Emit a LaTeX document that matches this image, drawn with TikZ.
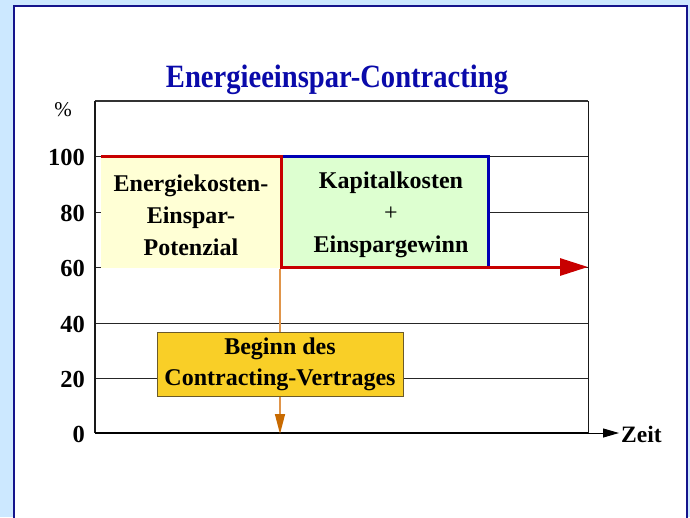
\documentclass[tikz,border=0pt]{standalone}
\usepackage{fontspec}
\setmainfont{Liberation Serif}
\newfontfamily\titlefont[FakeStretch=0.88]{Liberation Serif}
\newfontfamily\lblfont{Liberation Serif}
\usetikzlibrary{arrows.meta}
\definecolor{bgblue}{HTML}{CCE8FF}
\definecolor{panelblue}{HTML}{14148C}
\definecolor{titleblue}{HTML}{0A0AAA}
\definecolor{lightyellow}{HTML}{FFFFD5}
\definecolor{lightgreen}{HTML}{DDFFD0}
\definecolor{boxred}{HTML}{C80000}
\definecolor{boxblue}{HTML}{0000B4}
\definecolor{gold}{HTML}{F9CF27}
\definecolor{goldedge}{HTML}{6B5A2A}
\definecolor{orangeline}{HTML}{E0954A}
\definecolor{orangehead}{HTML}{C86A00}
\tikzset{
  ticklabel/.style={anchor=east, font=\lblfont\bfseries\fontsize{24.5}{24.5}\selectfont, inner sep=0pt},
  boxtext/.style={align=center, font=\lblfont\bfseries\fontsize{24}{32}\selectfont, inner sep=0pt},
  gridline/.style={black!85, line width=0.9pt},
}
\begin{document}
\begin{tikzpicture}[x=1pt,y=-1pt]
\useasboundingbox (0,0) rectangle (690,517);
\fill[bgblue] (0,0) rectangle (690,517);
\draw[panelblue, line width=2pt, fill=white] (13.5,5.5) rectangle (686.5,540);

% title
\node[text=titleblue, font=\titlefont\bfseries\fontsize{32.5}{32.5}\selectfont, inner sep=0pt] (title) at (337,80) {Energieeinspar-Contracting};

% coordinates
\coordinate (o) at (95,433);
\coordinate (tl) at (95,101);
\coordinate (tr) at (588,101);
\coordinate (br) at (588,433);

% grid lines
\foreach \yy in {156,212,267,323,378} {
  \draw[gridline] (95,\yy) -- (588,\yy);
}
% frame
\draw[black!80, line width=1.6pt] (tl) -- (tr);
\draw[black!90, line width=1pt] (tr) -- (br);
\draw[black!90, line width=1.2pt] (tl) -- (o);
\draw[black, line width=1.8pt] (o) -- (br);

% tick labels
\node[ticklabel] (l100) at (85,157) {100};
\node[ticklabel] (l80) at (85,213) {80};
\node[ticklabel] (l60) at (85,268) {60};
\node[ticklabel] (l40) at (85,324) {40};
\node[ticklabel] (l20) at (85,379) {20};
\node[ticklabel] (l0) at (85,434) {0};
\node[font=\lblfont\fontsize{21}{21}\selectfont, inner sep=0pt] (pct) at (63,110) {\%};

% x axis arrow
\coordinate (xend) at (619,433);
\draw[black, line width=1pt, -{Triangle[length=16pt,width=9pt]}] (br) -- (xend);
\node[anchor=west, font=\lblfont\bfseries\fontsize{23.5}{23.5}\selectfont, inner sep=0pt] (zeit) at (621,434) {Zeit};

% boxes
\fill[lightyellow] (101,156) rectangle (281,268);
\fill[lightgreen] (281,156) rectangle (488,267);
\coordinate (ya) at (101,156);
\coordinate (yb) at (281,156);
\coordinate (gc) at (488,156);
\coordinate (gd) at (488,267);
\coordinate (ge) at (281,267);
\coordinate (rend) at (588,267);
\draw[boxblue, line width=3pt] (yb) -- (gc) -- (gd);
\draw[boxred, line width=3pt, -{Triangle[length=28pt,width=17pt]}] (ya) -- (yb) -- (ge) -- (rend);

\node[boxtext] (ek) at (191,215) {Energiekosten-\\Einspar-\\Potenzial};
\node[boxtext] (kk) at (391,215) {Kapitalkosten\\{\mdseries +}\\Einspargewinn};

% orange arrow
\coordinate (os) at (280,269);
\coordinate (oe) at (280,434);
\draw[orangeline, line width=1.5pt, -{Triangle[length=20pt,width=10pt,color=orangehead]}] (os) -- (oe);

\node[boxtext, fill=gold, draw=goldedge, line width=0.8pt, minimum width=246pt, minimum height=64pt, font=\lblfont\bfseries\fontsize{24}{31}\selectfont] (beginn) at (280,364) {Beginn des\\Contracting-Vertrages};
\end{tikzpicture}
\end{document}
